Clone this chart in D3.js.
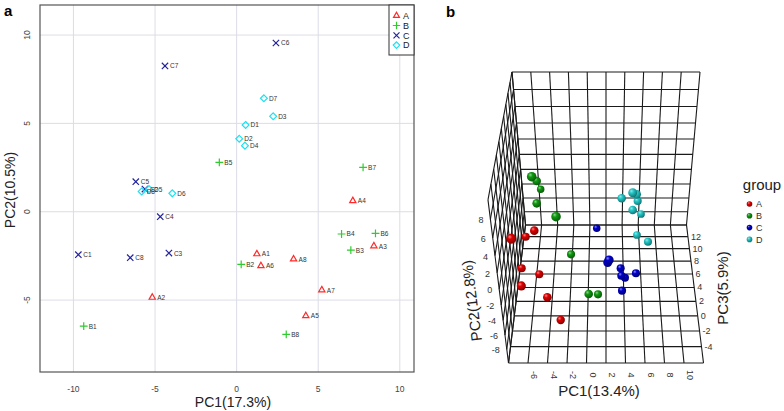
<!DOCTYPE html>
<html><head><meta charset="utf-8">
<script src="https://cdn.jsdelivr.net/npm/d3@7"></script>
<style>body{margin:0;background:#fff} svg{font-family:"Liberation Sans",Arial,sans-serif}</style>
</head><body><svg id="c" width="784" height="411"></svg>
<script>
// ================= DATA: panel a (2D PCA) =================
const namesA = ["A1","A2","A3","A4","A5","A6","A7","A8",
                "B1","B2","B3","B4","B5","B6","B7","B8",
                "C1","C2","C3","C4","C5","C6","C7","C8",
                "D1","D2","D3","D4","D5","D6","D7","D8"];
const pc1A = [1.24,-5.17,8.41,7.12,4.24,1.49,5.22,3.49,
              -9.37,0.28,7.00,6.43,-1.06,8.51,7.75,3.04,
              -9.70,-5.62,-4.15,-4.68,-6.18,2.41,-4.39,-6.52,
              0.55,0.16,2.24,0.51,-5.37,-3.94,1.67,-5.82];
const pc2A = [-2.39,-4.85,-1.94,0.62,-5.89,-3.06,-4.43,-2.68,
              -6.47,-2.98,-2.17,-1.26,2.79,-1.22,2.51,-6.94,
              -2.43,1.28,-2.34,-0.28,1.70,9.55,8.25,-2.60,
              4.91,4.13,5.40,3.74,1.28,1.04,6.42,1.15];
const groups = ["A","B","C","D"];
const xTicksA = [-10,-5,0,5,10];
const yTicksA = [-5,0,5,10];
const titlesA = ["PC1(17.3%)","PC2(10.5%)"];

// ================= DATA: panel b (3D PCA) =================
const groupB = ["B","B","B","B","B","B","B","B",
                "A","A","A","A","A","A","A","A",
                "C","C","C","C","C","C","C","C",
                "D","D","D","D","D","D","D","D"];
const pc1B = [-4.93,-5.17,-5.76,-5.17,-2.66,-1.84,0.21,1.12,
              -5.42,-6.47,-6.82,-7.26,-5.33,-6.22,-4.07,-2.80,
              0.90,2.29,2.17,3.61,3.68,4.14,5.29,3.76,
              4.66,5.18,3.62,5.48,4.76,6.02,5.56,6.61];
const pc2B = [7.72,2.98,-4.41,1.32,5.05,-5.58,-5.39,-8.72,
              -0.70,5.41,-4.19,-6.67,-7.14,-1.53,-5.63,-8.68,
              -7.73,0.90,-1.17,-6.67,-7.26,-8.70,-7.06,-8.43,
              3.81,1.99,1.70,-1.38,0.83,-4.75,-6.48,-4.58];
const pc3B = [-0.02,5.51,13.57,4.15,-2.21,4.36,-1.38,1.77,
              2.48,-5.46,5.50,3.46,3.07,-4.10,-1.59,-1.74,
              10.84,-3.28,-1.45,3.46,2.97,4.14,3.13,2.01,
              2.66,4.69,4.45,7.81,3.74,9.75,8.33,5.18];
const gridPC1 = [-8,-6,-4,-2,0,2,4,6,8,10,12];
const gridPC2 = [-10,-8,-6,-4,-2,0,2,4,6,8,10];
const gridPC3 = [-6,-4,-2,0,2,4,6,8,10,12,14];
const labPC1 = [-6,-4,-2,0,2,4,6,8,10];
const labPC2 = [-8,-6,-4,-2,0,2,4,6,8];
const labPC3 = [-4,-2,0,2,4,6,8,10,12];
const titlesB = ["PC1(13.4%)","PC2(12.8%)","PC3(5.9%)"];

// ================= PANEL A =================
const svg = d3.select("#c");
const colA = d3.scaleOrdinal().domain(groups).range(["#ff2a2a","#2ecc2e","#24249a","#1ee0f0"]);
const symA = d3.scaleOrdinal().domain(groups).range([d3.symbolTriangle2,d3.symbolPlus,d3.symbolTimes,d3.symbolDiamond2]);
const sizeA = d3.scaleOrdinal().domain(groups).range([28,22,28,30]);
const x = d3.scaleLinear().domain([-12.05,10.87]).range([40,414]);
const y = d3.scaleLinear().domain([-9.07,11.7]).range([372,5]);
const ga = svg.append("g");

ga.selectAll("line.gx").data(xTicksA).join("line")
  .attr("x1",d=>x(d)).attr("x2",d=>x(d)).attr("y1",y.range()[0]).attr("y2",y.range()[1])
  .attr("stroke","#dcdce8").attr("stroke-width",1);
ga.selectAll("line.gy").data(yTicksA).join("line")
  .attr("y1",d=>y(d)).attr("y2",d=>y(d)).attr("x1",x.range()[0]).attr("x2",x.range()[1])
  .attr("stroke","#dcdce8").attr("stroke-width",1);
ga.append("rect").attr("x",x.range()[0]).attr("y",y.range()[1])
  .attr("width",x.range()[1]-x.range()[0]).attr("height",y.range()[0]-y.range()[1])
  .attr("fill","none").attr("stroke","#555").attr("stroke-width",1.2);

ga.selectAll("text.tx").data(xTicksA).join("text")
  .attr("x",d=>x(d)).attr("y",392).attr("text-anchor","middle")
  .attr("font-size",8.5).attr("fill","#444").text(d=>d);
ga.selectAll("text.ty").data(yTicksA).join("text")
  .attr("transform",d=>`translate(30,${y(d)}) rotate(-90)`).attr("text-anchor","middle")
  .attr("font-size",8.5).attr("fill","#444").text(d=>d);

ga.append("text").attr("x",233).attr("y",407).attr("text-anchor","middle")
  .attr("font-size",14).attr("fill","#222").text(titlesA[0]);
ga.append("text").attr("transform","translate(15,190) rotate(-90)").attr("text-anchor","middle")
  .attr("font-size",14).attr("fill","#222").text(titlesA[1]);

const ptsA = namesA.map((n,i)=>({n,g:n[0],x:pc1A[i],y:pc2A[i]}));
ga.selectAll("path.pt").data(ptsA).join("path")
  .attr("transform",d=>`translate(${x(d.x)},${y(d.y)})`)
  .attr("d",d=>d3.symbol(symA(d.g),sizeA(d.g))())
  .attr("fill","none").attr("stroke",d=>colA(d.g)).attr("stroke-width",1.2);
ga.selectAll("text.pl").data(ptsA).join("text")
  .attr("x",d=>x(d.x)+5).attr("y",d=>y(d.y)+2.5)
  .attr("font-size",6.5).attr("fill","#333").text(d=>d.n);

// legend a
const lg = ga.append("g");
lg.append("rect").attr("x",389).attr("y",5).attr("width",25).attr("height",50)
  .attr("fill","#fff").attr("stroke","#333").attr("stroke-width",1);
groups.forEach((g,i)=>{
  const yy = 15.7 + i*9.8;
  lg.append("path").attr("transform",`translate(396.5,${yy})`)
    .attr("d",d3.symbol(symA(g),sizeA(g)*0.9)()).attr("fill","none")
    .attr("stroke",colA(g)).attr("stroke-width",1.2);
  lg.append("text").attr("x",403).attr("y",yy+3.3).attr("font-size",9).attr("fill","#222").text(g);
});
svg.append("text").attr("x",4).attr("y",16).attr("font-size",15).attr("font-weight","bold").text("a");

// ================= PANEL B (perspective 3D) =================
const cam = {theta:Math.PI/4, f:783, cx:606, cy:354.4, D0:8.18, U0:-1.458};
const X3 = d3.scaleLinear().domain([-8,12]).range([-1,1]);
const Y3 = d3.scaleLinear().domain([-10,10]).range([-0.988,0.988]);
const Z3 = d3.scaleLinear().domain([-6,14]).range([1.199,-1.199]);
function proj(p1,p2,p3){
  const X=X3(p1), Y=Y3(p2), Z=Z3(p3);
  const s=Math.sin(cam.theta), c=Math.cos(cam.theta);
  const d = cam.D0 - s*Y - c*Z;
  const up = c*Y - s*Z - cam.U0;
  return [cam.cx + cam.f*X/d, cam.cy - cam.f*up/d, d];
}
const gb = svg.append("g");
const segs = [];
const [p1min,p1max]=X3.domain(), [p2min,p2max]=Y3.domain(), [p3min,p3max]=Z3.domain();
// back wall (PC3 = max)
gridPC1.forEach(v=>segs.push([proj(v,p2min,p3max),proj(v,p2max,p3max)]));
gridPC2.forEach(v=>segs.push([proj(p1min,v,p3max),proj(p1max,v,p3max)]));
// floor (PC2 = min)
gridPC1.forEach(v=>segs.push([proj(v,p2min,p3min),proj(v,p2min,p3max)]));
gridPC3.forEach(v=>segs.push([proj(p1min,p2min,v),proj(p1max,p2min,v)]));
// left wall (PC1 = min)
gridPC2.forEach(v=>segs.push([proj(p1min,v,p3min),proj(p1min,v,p3max)]));
gridPC3.forEach(v=>segs.push([proj(p1min,p2min,v),proj(p1min,p2max,v)]));
gb.selectAll("line.grid").data(segs).join("line")
  .attr("x1",d=>d[0][0]).attr("y1",d=>d[0][1]).attr("x2",d=>d[1][0]).attr("y2",d=>d[1][1])
  .attr("stroke","#1a1a1a").attr("stroke-width",1.1);

// tick labels
gb.selectAll("text.l1").data(labPC1).join("text")
  .attr("transform",d=>{const p=proj(d,p2min,p3min);return `translate(${p[0]+3},${p[1]+12}) rotate(90)`;})
  .attr("text-anchor","middle").attr("font-size",9).attr("fill","#333").text(d=>d);
gb.selectAll("text.l2").data(labPC2).join("text")
  .attr("x",d=>proj(p1min,d,p3min)[0]-7).attr("y",d=>proj(p1min,d,p3min)[1]+4)
  .attr("text-anchor","end").attr("font-size",9).attr("fill","#333").text(d=>d);
gb.selectAll("text.l3").data(labPC3).join("text")
  .attr("x",d=>proj(p1max,p2min,d)[0]+3).attr("y",d=>proj(p1max,p2min,d)[1]+3)
  .attr("text-anchor","start").attr("font-size",9).attr("fill","#333").text(d=>d);

gb.append("text").attr("x",599).attr("y",396).attr("text-anchor","middle")
  .attr("font-size",15).attr("fill","#222").text(titlesB[0]);
gb.append("text").attr("transform","translate(477,300) rotate(-97)").attr("text-anchor","middle")
  .attr("font-size",15).attr("fill","#222").text(titlesB[1]);
gb.append("text").attr("transform","translate(728,288) rotate(-90)").attr("text-anchor","middle")
  .attr("font-size",15).attr("fill","#222").text(titlesB[2]);

// sphere gradients
const colB = d3.scaleOrdinal().domain(groups).range(["#e00000","#0f9a0f","#0000cc","#22c8c8"]);
const defs = svg.append("defs");
groups.forEach(g=>{
  const base = d3.color(colB(g));
  const gr = defs.append("radialGradient").attr("id","sph"+g)
    .attr("cx","40%").attr("cy","38%").attr("r","65%").attr("fx","35%").attr("fy","30%");
  gr.append("stop").attr("offset","0%").attr("stop-color",d3.interpolateRgb(base,"#fff")(0.55));
  gr.append("stop").attr("offset","35%").attr("stop-color",base.formatHex());
  gr.append("stop").attr("offset","100%").attr("stop-color",base.darker(1.6).formatHex());
});
const R3 = 0.0445;
const ptsB = groupB.map((g,i)=>{const p=proj(pc1B[i],pc2B[i],pc3B[i]);return {g,x:p[0],y:p[1],d:p[2]};})
  .sort((a,b)=>b.d-a.d);
gb.selectAll("circle.sp").data(ptsB).join("circle")
  .attr("cx",d=>d.x).attr("cy",d=>d.y).attr("r",d=>cam.f*R3/d.d)
  .attr("fill",d=>`url(#sph${d.g})`);

// legend b
gb.append("text").attr("x",762).attr("y",190).attr("text-anchor","middle").attr("font-size",15).attr("fill","#222").text("group");
groups.forEach((g,i)=>{
  const yy = 204 + i*11.8;
  gb.append("circle").attr("cx",749.5).attr("cy",yy).attr("r",2.8).attr("fill",`url(#sph${g})`);
  gb.append("text").attr("x",756).attr("y",yy+3.2).attr("font-size",9).attr("fill","#333").text(g);
});
svg.append("text").attr("x",446).attr("y",17).attr("font-size",15).attr("font-weight","bold").text("b");
</script></body></html>
